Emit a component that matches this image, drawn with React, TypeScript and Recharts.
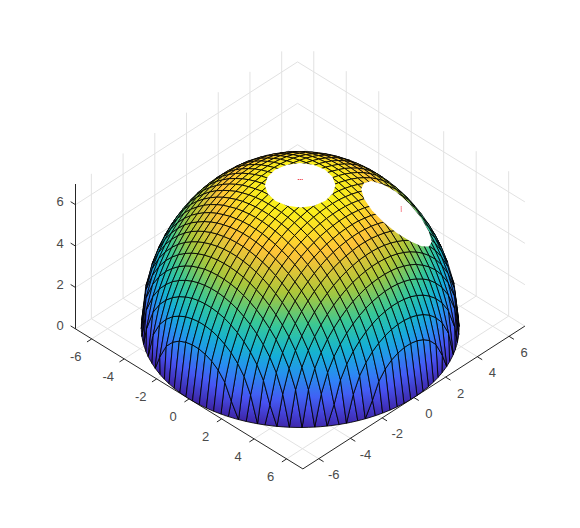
import { ScatterChart, Scatter, XAxis, YAxis, ReferenceLine } from 'recharts';

// Axis ticks
const horizontalTicks = [-6, -4, -2, 0, 2, 4, 6];
const heightTicks = [0, 2, 4, 6];
const boxLimit = 7;

// Mesh positions, used for x and for y
const meshValues = [
  -7, -6.6, -6.2, -5.8, -5.4, -5, -4.6, -4.2, -3.8, -3.4, -3, -2.6, -2.2, -1.8, -1.4, -1, -0.6, -0.2,
  0.2, 0.6, 1, 1.4, 1.8, 2.2, 2.6, 3, 3.4, 3.8, 4.2, 4.6, 5, 5.4, 5.8, 6.2, 6.6, 7,
];

// Height of the dome, one quadrant of the mesh. Row r starts on the diagonal at column r,
// the dome is mirrored in both axes. No entry means the node lies past the rim.
const domeHeights = [
  [6.99, 6.97, 6.93, 6.86, 6.76, 6.64, 6.5, 6.32, 6.12, 5.88, 5.6, 5.27, 4.89, 4.45, 3.91, 3.24, 2.32],
  [6.95, 6.9, 6.83, 6.74, 6.62, 6.47, 6.3, 6.09, 5.85, 5.57, 5.24, 4.86, 4.41, 3.87, 3.19, 2.25],
  [6.86, 6.79, 6.69, 6.57, 6.42, 6.24, 6.04, 5.79, 5.51, 5.18, 4.8, 4.34, 3.79, 3.09, 2.11],
  [6.71, 6.62, 6.5, 6.35, 6.17, 5.96, 5.71, 5.42, 5.09, 4.69, 4.23, 3.66, 2.93, 1.87],
  [6.52, 6.4, 6.24, 6.06, 5.85, 5.6, 5.3, 4.96, 4.56, 4.07, 3.48, 2.71, 1.48],
  [6.27, 6.12, 5.93, 5.71, 5.45, 5.15, 4.8, 4.38, 3.87, 3.24, 2.39, 0.77],
  [5.96, 5.77, 5.54, 5.27, 4.96, 4.59, 4.15, 3.62, 2.93, 1.95],
  [5.57, 5.33, 5.06, 4.73, 4.34, 3.87, 3.29, 2.52, 1.25],
  [5.09, 4.8, 4.45, 4.03, 3.53, 2.88, 1.95],
  [4.49, 4.11, 3.66, 3.09, 2.32, 0.96],
  [3.7, 3.19, 2.52, 1.48],
  [2.58, 1.69],
];

// Outlines of the two openings in the dome, as [x, y, z]
const topOpening = [
  [1.51, 0.04, 6.83], [1.39, 0.63, 6.83], [1.06, 1.14, 6.83], [0.55, 1.47, 6.83],
  [-0.04, 1.59, 6.83], [-0.63, 1.47, 6.83], [-1.14, 1.14, 6.83], [-1.47, 0.63, 6.83],
  [-1.59, 0.04, 6.83], [-1.47, -0.55, 6.83], [-1.14, -1.06, 6.83], [-0.63, -1.39, 6.83],
  [-0.04, -1.51, 6.83], [0.55, -1.39, 6.83], [1.06, -1.06, 6.83], [1.39, -0.55, 6.83],
];
const sideOpening = [
  [4.35, 3.2, 4.45], [4.23, 3.79, 4.09], [3.9, 4.3, 3.91], [3.39, 4.63, 4.01],
  [2.8, 4.75, 4.31], [2.21, 4.63, 4.76], [1.7, 4.3, 5.26], [1.37, 3.79, 5.72],
  [1.25, 3.2, 6.1], [1.37, 2.61, 6.35], [1.7, 2.1, 6.46], [2.21, 1.77, 6.4],
  [2.8, 1.65, 6.2], [3.39, 1.77, 5.86], [3.9, 2.1, 5.42], [4.23, 2.61, 4.93],
];

// Red markers inside the openings
const redPoints = [
  { x: -0.06, y: -0.06, z: 7.15 },
  { x: 0, y: 0, z: 7.15 },
  { x: 0.06, y: 0.06, z: 7.15 },
  { x: 3.05, y: 3.25, z: 5.5 },
  { x: 2.95, y: 3.35, z: 5.5 },
  { x: 2.85, y: 3.45, z: 5.5 },
];

const parula = ['#3e26a8', '#4852f4', '#2d87f7', '#12b1d6', '#37c897', '#abc739', '#fec338', '#f9fb15'];

// View of the 3D box on the page
const project = (x: number, y: number, z: number) => ({
  u: 300.2 + 16.24 * x + 15.86 * y,
  v: 327.5 + 10 * x - 10.2 * y - 20.7 * z,
});

const lookupHeight = (i: number, j: number) => {
  const a = Math.abs(i - 17.5) - 0.5;
  const b = Math.abs(j - 17.5) - 0.5;
  const row = domeHeights[Math.min(a, b)];
  return row ? row[Math.abs(a - b)] : undefined;
};

const meshNode = (i: number, j: number) => {
  const x = meshValues[i];
  const y = meshValues[j];
  const z = lookupHeight(i, j);
  if (z !== undefined) return { x, y, z, inside: true };
  // past the rim: pull the node back on to the rim
  const k = boxLimit / Math.hypot(x, y);
  return { x: x * k, y: y * k, z: 0, inside: false };
};

const colorFor = (z: number) => {
  const t = (Math.min(z, boxLimit) / boxLimit) * (parula.length - 1);
  const n = Math.min(Math.floor(t), parula.length - 2);
  const f = t - n;
  const a = parseInt(parula[n].slice(1), 16);
  const b = parseInt(parula[n + 1].slice(1), 16);
  const ch = (s: number) => Math.round(((a >> s) & 255) * (1 - f) + ((b >> s) & 255) * f);
  return `rgb(${ch(16)},${ch(8)},${ch(0)})`;
};

// Build the surface patches that face the viewer, far ones first
const buildCells = () => {
  const cells: any[] = [];
  for (let i = 0; i < meshValues.length - 1; i++) {
    for (let j = 0; j < meshValues.length - 1; j++) {
      const nodes = [meshNode(i, j), meshNode(i + 1, j), meshNode(i + 1, j + 1), meshNode(i, j + 1)];
      if (!nodes.some((n) => n.inside)) continue;
      const mx = (meshValues[i] + meshValues[i + 1]) / 2;
      const my = (meshValues[j] + meshValues[j + 1]) / 2;
      const corners = nodes.map((n) => project(n.x, n.y, n.z));
      let area = 0;
      corners.forEach((c, k) => {
        const d = corners[(k + 1) % 4];
        area += c.u * d.v - d.u * c.v;
      });
      if (area > 0) continue;
      const high = nodes.reduce((best, n, k) => (n.z > nodes[best].z ? k : best), 0);
      const low = nodes.reduce((best, n, k) => (n.z < nodes[best].z ? k : best), 0);
      const mz = nodes.reduce((s, n) => s + n.z, 0) / 4;
      cells.push({
        id: `c${i}_${j}`,
        u: corners.reduce((s, c) => s + c.u, 0) / 4,
        v: corners.reduce((s, c) => s + c.v, 0) / 4,
        corners,
        high: corners[high],
        low: corners[low],
        colors: [colorFor(nodes[high].z), colorFor((nodes[high].z + nodes[low].z) / 2), colorFor(nodes[low].z)],
        depth: 0.54 * (mx - my) + 0.91 * mz,
      });
    }
  }
  return cells.sort((a, b) => a.depth - b.depth);
};

const cellData = buildCells();
const redData = redPoints.map((p) => project(p.x, p.y, p.z));

const openingData = [topOpening, sideOpening].map((ring) => {
  const corners = ring.map(([x, y, z]) => project(x, y, z));
  return {
    u: corners.reduce((s, c) => s + c.u, 0) / corners.length,
    v: corners.reduce((s, c) => s + c.v, 0) / corners.length,
    corners,
  };
});

const xLabelData = horizontalTicks.map((t) => {
  const p = project(t, -boxLimit, 0);
  return { u: p.u - 16, v: p.v + 17.5, label: String(t) };
});
const yLabelData = horizontalTicks.map((t) => {
  const p = project(boxLimit, t, 0);
  return { u: p.u + 15, v: p.v + 16, label: String(t) };
});
const zLabelData = heightTicks.map((t) => {
  const p = project(-boxLimit, -boxLimit, t);
  return { u: p.u - 15.5, v: p.v - 3, label: String(t) };
});

type Seg = [[number, number, number], [number, number, number]];

const L = boxLimit;
const gridSegments: Seg[] = [
  ...horizontalTicks.flatMap((t): Seg[] => [
    [[t, -L, 0], [t, L, 0]],
    [[-L, t, 0], [L, t, 0]],
    [[-L, t, 0], [-L, t, L]],
    [[t, L, 0], [t, L, L]],
  ]),
  ...heightTicks.flatMap((t): Seg[] => [
    [[-L, -L, t], [-L, L, t]],
    [[-L, L, t], [L, L, t]],
  ]),
];

const axisSegments: Seg[] = [
  [[-L, -L, 0], [L, -L, 0]],
  [[L, -L, 0], [L, L, 0]],
  [[-L, -L, 0], [-L, -L, L]],
  ...horizontalTicks.flatMap((t): Seg[] => [
    [[t, -L, 0], [t, -L - 0.3, 0]],
    [[L, t, 0], [L + 0.3, t, 0]],
  ]),
  ...heightTicks.map((t): Seg => [[-L, -L, t], [-L - 0.3, -L, t]]),
];

const toSegment = (s: Seg) =>
  s.map(([x, y, z]) => {
    const p = project(x, y, z);
    return { x: p.u, y: p.v };
  }) as any;

const CellShape = (props: any) => {
  const { cx, cy, payload } = props;
  const dx = cx - payload.u;
  const dy = cy - payload.v;
  const points = payload.corners.map((c: any) => `${c.u + dx},${c.v + dy}`).join(' ');
  return (
    <g>
      <linearGradient
        id={payload.id}
        gradientUnits="userSpaceOnUse"
        x1={payload.high.u + dx}
        y1={payload.high.v + dy}
        x2={payload.low.u + dx}
        y2={payload.low.v + dy}
      >
        <stop offset="0" stopColor={payload.colors[0]} />
        <stop offset="0.5" stopColor={payload.colors[1]} />
        <stop offset="1" stopColor={payload.colors[2]} />
      </linearGradient>
      <polygon points={points} fill={`url(#${payload.id})`} stroke="#000000" strokeWidth={0.85} strokeLinejoin="round" />
    </g>
  );
};

const OpeningShape = (props: any) => {
  const { cx, cy, payload } = props;
  const points = payload.corners.map((c: any) => `${c.u + cx - payload.u},${c.v + cy - payload.v}`).join(' ');
  return <polygon points={points} fill="#ffffff" />;
};

const RedShape = (props: any) => (
  <rect x={props.cx - 0.5} y={props.cy - 0.5} width={1} height={1} fill="#ee1122" />
);

const LabelShape = (props: any) => (
  <text
    x={props.cx}
    y={props.cy}
    textAnchor="middle"
    dominantBaseline="central"
    fontFamily="'Liberation Sans', Arial, sans-serif"
    fontSize={13}
    fill="#4a4a4a"
  >
    {props.payload.label}
  </text>
);

const App = () => {
  return (
    <div style={{ position: 'absolute', left: 0, top: 0, width: 580, height: 528, background: '#ffffff' }}>
      <ScatterChart width={580} height={528} margin={{ top: 0, right: 0, bottom: 0, left: 0 }}>
        <XAxis type="number" dataKey="u" domain={[0, 580]} hide />
        <YAxis type="number" dataKey="v" domain={[0, 528]} reversed hide />
        {gridSegments.map((s, i) => (
          <ReferenceLine key={`g${i}`} segment={toSegment(s)} stroke="#e2e2e2" strokeWidth={1} />
        ))}
        {axisSegments.map((s, i) => (
          <ReferenceLine key={`a${i}`} segment={toSegment(s)} stroke="#262626" strokeWidth={1} />
        ))}
        <Scatter data={cellData} shape={CellShape} isAnimationActive={false} />
        <Scatter data={openingData} shape={OpeningShape} isAnimationActive={false} />
        <Scatter data={redData} shape={RedShape} isAnimationActive={false} />
        <Scatter data={xLabelData} shape={LabelShape} isAnimationActive={false} />
        <Scatter data={yLabelData} shape={LabelShape} isAnimationActive={false} />
        <Scatter data={zLabelData} shape={LabelShape} isAnimationActive={false} />
      </ScatterChart>
    </div>
  );
};

export default App;
